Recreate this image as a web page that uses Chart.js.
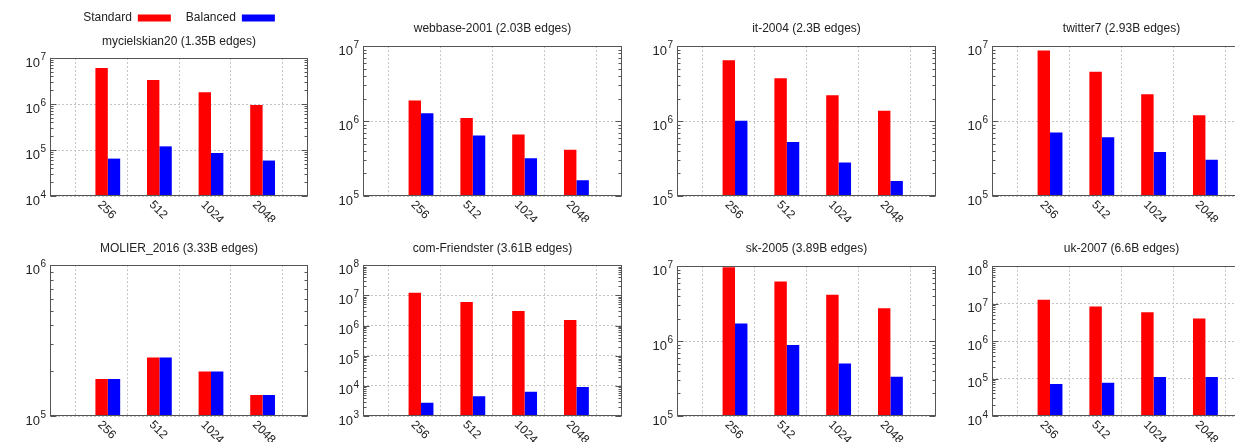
<!DOCTYPE html>
<html>
<head>
<meta charset="utf-8">
<script src="https://cdn.jsdelivr.net/npm/chart.js@4/dist/chart.umd.min.js"></script>
<style>
html, body { margin: 0; padding: 0; background: #fff; }
body { position: relative; width: 1235px; height: 442px; overflow: hidden; }
.cell { position: absolute; }
</style>
</head>
<body>
<div id="grid"></div>
<script>
const nodeCounts = ['256', '512', '1024', '2048'];
const seriesNames = ['Standard', 'Balanced'];
const graphTitles = [
    'mycielskian20 (1.35B edges)',
    'webbase-2001 (2.03B edges)',
    'it-2004 (2.3B edges)',
    'twitter7 (2.93B edges)',
    'MOLIER_2016 (3.33B edges)',
    'com-Friendster (3.61B edges)',
    'sk-2005 (3.89B edges)',
    'uk-2007 (6.6B edges)'
];

const mycielskianStandard = [6.07e6, 3.33e6, 1.79e6, 9.5e5];
const mycielskianBalanced = [6.5e4, 1.2e5, 8.6e4, 5.9e4];
const webbaseStandard = [1.89e6, 1.1e6, 6.6e5, 4.16e5];
const webbaseBalanced = [1.27e6, 6.4e5, 3.2e5, 1.62e5];
const it2004Standard = [6.5e6, 3.74e6, 2.22e6, 1.37e6];
const it2004Balanced = [1.01e6, 5.25e5, 2.81e5, 1.58e5];
const twitterStandard = [8.77e6, 4.55e6, 2.29e6, 1.2e6];
const twitterBalanced = [7.07e5, 6.1e5, 3.86e5, 3.05e5];
const molierStandard = [1.76e5, 2.44e5, 1.97e5, 1.38e5];
const molierBalanced = [1.76e5, 2.44e5, 1.97e5, 1.38e5];
const friendsterStandard = [1.21e7, 6.07e6, 3.05e6, 1.53e6];
const friendsterBalanced = [2.77e3, 4.5e3, 6.42e3, 9.2e3];
const sk2005Standard = [9.7e6, 6.25e6, 4.15e6, 2.75e6];
const sk2005Balanced = [1.72e6, 8.85e5, 5.04e5, 3.34e5];
const uk2007Standard = [1.27e7, 8.4e6, 5.93e6, 4.02e6];
const uk2007Balanced = [7.1e4, 7.7e4, 1.1e5, 1.1e5];

const yTicksMycielskian = [1e4, 1e5, 1e6, 1e7];
const yTicksWebbase = [1e5, 1e6, 1e7];
const yTicksIt2004 = [1e5, 1e6, 1e7];
const yTicksTwitter = [1e5, 1e6, 1e7];
const yTicksMolier = [1e5, 1e6];
const yTicksFriendster = [1e3, 1e4, 1e5, 1e6, 1e7, 1e8];
const yTicksSk2005 = [1e5, 1e6, 1e7];
const yTicksUk2007 = [1e4, 1e5, 1e6, 1e7, 1e8];

const standardSeries = [mycielskianStandard, webbaseStandard, it2004Standard, twitterStandard,
    molierStandard, friendsterStandard, sk2005Standard, uk2007Standard];
const balancedSeries = [mycielskianBalanced, webbaseBalanced, it2004Balanced, twitterBalanced,
    molierBalanced, friendsterBalanced, sk2005Balanced, uk2007Balanced];
const yTickSets = [yTicksMycielskian, yTicksWebbase, yTicksIt2004, yTicksTwitter,
    yTicksMolier, yTicksFriendster, yTicksSk2005, yTicksUk2007];

// plot-area boxes of the 2x4 panel grid (page pixels)
const panels = [
    { L: 50, R: 308, T: 58, B: 196, titleY: 42, legend: true },
    { L: 363, R: 622, T: 46, B: 196, titleY: 28 },
    { L: 677, R: 936, T: 46, B: 196, titleY: 28 },
    { L: 992, R: 1251, T: 46, B: 196, titleY: 28 },
    { L: 50, R: 308, T: 265, B: 416, titleY: 248 },
    { L: 363, R: 622, T: 265, B: 416, titleY: 248 },
    { L: 677, R: 936, T: 266, B: 416, titleY: 248 },
    { L: 992, R: 1251, T: 266, B: 416, titleY: 248 }
];

const FONT = '"Liberation Sans", Arial, Helvetica, sans-serif';
Chart.defaults.font.family = FONT;
Chart.defaults.font.size = 12;
Chart.defaults.color = '#222';

const YW = 50;      // y axis width
const XH = 26;      // room for rotated x labels
const PAD_R = 3;
const LEGEND_H = 37;

// frame, inner log ticks, 10^n labels and rotated category labels
const framePlugin = {
    id: 'frame',
    afterDraw(chart) {
        const ctx = chart.ctx;
        const a = chart.chartArea;
        const y = chart.scales.y;
        const x = chart.scales.x;
        const left = Math.round(a.left) + 0.5;
        const right = Math.round(a.right) - 0.5;
        const top = Math.round(a.top) + 0.5;
        const bottom = Math.round(a.bottom) - 0.5;
        ctx.save();
        ctx.strokeStyle = '#555';
        ctx.lineWidth = 1;
        ctx.beginPath();
        const e0 = Math.round(Math.log10(y.min));
        const e1 = Math.round(Math.log10(y.max));
        for (let e = e0; e <= e1; e++) {
            for (let k = 1; k <= 9; k++) {
                const v = k * Math.pow(10, e);
                if (v < y.min || v > y.max) continue;
                const py = Math.round(y.getPixelForValue(v)) + 0.5;
                const len = k === 1 ? 6 : 3;
                ctx.moveTo(left, py); ctx.lineTo(left + len, py);
                ctx.moveTo(right, py); ctx.lineTo(right - len, py);
            }
        }
        ctx.stroke();
        ctx.strokeRect(left, top, right - left, bottom - top);

        ctx.fillStyle = '#222';
        ctx.textAlign = 'right';
        ctx.textBaseline = 'alphabetic';
        y.ticks.forEach(t => {
            const py = y.getPixelForValue(t.value);
            const exp = String(Math.round(Math.log10(t.value)));
            ctx.font = '10px ' + FONT;
            const ew = ctx.measureText(exp).width;
            ctx.fillText(exp, a.left - 4, py + 2);
            ctx.font = '13px ' + FONT;
            ctx.fillText('10', a.left - 4 - ew - 0.5, py + 8.5);
        });

        ctx.font = '12px ' + FONT;
        ctx.textAlign = 'left';
        ctx.textBaseline = 'middle';
        nodeCounts.forEach((label, i) => {
            const px = x.getPixelForValue(i + 1);
            ctx.save();
            ctx.translate(px - 2, a.bottom + 7);
            ctx.rotate(Math.PI / 4);
            ctx.fillText(label, 0, 0);
            ctx.restore();
        });
        ctx.restore();
    }
};

const grid = document.getElementById('grid');

panels.forEach((p, i) => {
    const canvasTop = p.legend ? -3 : p.titleY - 7.2 - 2;
    const blockTop = p.legend ? canvasTop + LEGEND_H : canvasTop;
    const titlePadTop = p.titleY - 7.2 - blockTop;
    const titlePadBottom = p.T - p.titleY - 7.2;
    const width = (p.R - p.L) + YW + PAD_R;
    const height = Math.round(p.B - canvasTop) + XH;

    const cell = document.createElement('div');
    cell.className = 'cell';
    cell.style.left = (p.L - YW) + 'px';
    cell.style.top = canvasTop + 'px';
    const canvas = document.createElement('canvas');
    canvas.width = width;
    canvas.height = height;
    canvas.style.width = width + 'px';
    canvas.style.height = height + 'px';
    cell.appendChild(canvas);
    grid.appendChild(cell);

    const yTicks = yTickSets[i];
    const labels = [''].concat(nodeCounts, ['']);
    const pad = arr => [null].concat(arr, [null]);

    new Chart(canvas, {
        type: 'bar',
        data: {
            labels: labels,
            datasets: [{
                label: '',
                data: pad([null, null, null, null]),
                backgroundColor: 'rgba(0,0,0,0)'
            }, {
                label: seriesNames[0],
                data: pad(standardSeries[i]),
                backgroundColor: '#ff0000',
                borderWidth: 0
            }, {
                label: seriesNames[1],
                data: pad(balancedSeries[i]),
                backgroundColor: '#0000ff',
                borderWidth: 0
            }]
        },
        options: {
            responsive: false,
            animation: false,
            devicePixelRatio: 1,
            events: [],
            categoryPercentage: 0.72,
            barPercentage: 1.0,
            layout: { padding: { left: 0, right: PAD_R, top: 0, bottom: 0 } },
            plugins: {
                tooltip: { enabled: false },
                legend: {
                    display: !!p.legend,
                    fullSize: false,
                    rtl: true,
                    reverse: true,
                    labels: {
                        filter: item => item.text !== '',
                        boxWidth: 33,
                        boxHeight: 7,
                        padding: 15,
                        color: '#222',
                        font: { size: 12 }
                    }
                },
                title: {
                    display: true,
                    text: graphTitles[i],
                    fullSize: false,
                    weight: 500,
                    color: '#222',
                    font: { size: 12, weight: 'normal' },
                    padding: { top: titlePadTop, bottom: titlePadBottom }
                }
            },
            scales: {
                x: {
                    offset: false,
                    ticks: { display: false },
                    grid: { color: '#c4c4c4', lineWidth: 1, drawTicks: false },
                    border: { display: false, dash: [2, 2] },
                    afterFit: s => { s.height = XH; }
                },
                y: {
                    type: 'logarithmic',
                    min: yTicks[0],
                    max: yTicks[yTicks.length - 1],
                    afterBuildTicks: s => { s.ticks = yTicks.map(v => ({ value: v })); },
                    afterFit: s => { s.width = YW; },
                    ticks: { display: false },
                    grid: { color: '#c4c4c4', lineWidth: 1, drawTicks: false },
                    border: { display: false, dash: [2, 2] }
                }
            }
        },
        plugins: [framePlugin]
    });
});
</script>
</body>
</html>
